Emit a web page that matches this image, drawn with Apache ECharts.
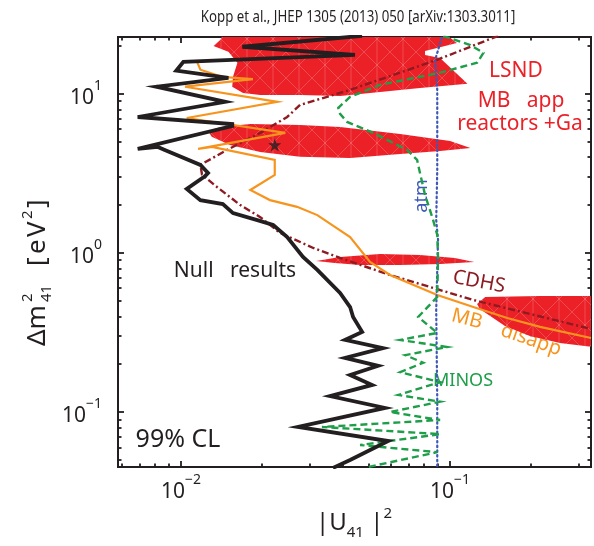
<!DOCTYPE html>
<html>
<head>
<meta charset="utf-8">
<script src="https://cdn.jsdelivr.net/npm/echarts@6/dist/echarts.min.js"></script>
<style>
  html, body { margin: 0; background: #fff; }
  #chart { width: 594px; height: 546px; }
</style>
</head>
<body>
<div id="chart"></div>
<script>
// ---- tick values ----
const xMajor = [0.01, 0.1];
const xMinor = [0.006, 0.007, 0.008, 0.009, 0.02, 0.03, 0.04, 0.05, 0.06, 0.07, 0.08, 0.09, 0.2, 0.3];
const yMajor = [0.1, 1, 10];
const yMinor = [0.05, 0.06, 0.07, 0.08, 0.09, 0.2, 0.3, 0.4, 0.5, 0.6, 0.7, 0.8, 0.9, 2, 3, 4, 5, 6, 7, 8, 9, 20];

// ---- curves [|U41|^2, dm2] ----
const nullResults = [
  [0.0471, 23.2], [0.0169, 19.8], [0.0443, 17.6], [0.0102, 15.9], [0.0096, 14.0], [0.0150, 12.6],
  [0.0081, 11.1], [0.0146, 8.91], [0.0069, 7.16], [0.0155, 6.47], [0.0155, 6.28], [0.0069, 4.51],
  [0.0082, 4.64], [0.0087, 4.44], [0.0118, 3.58], [0.0126, 3.18], [0.0123, 3.05], [0.0105, 2.53],
  [0.0118, 2.15], [0.0143, 2.03], [0.0156, 1.78], [0.0192, 1.61], [0.0220, 1.50], [0.0248, 1.26],
  [0.0284, 0.944], [0.0321, 0.782], [0.0390, 0.560], [0.0425, 0.457], [0.0436, 0.396], [0.0471, 0.319],
  [0.0407, 0.284], [0.0563, 0.252], [0.0407, 0.219], [0.0540, 0.195], [0.0425, 0.171], [0.0513, 0.148],
  [0.0358, 0.126], [0.0573, 0.106], [0.0272, 0.0805], [0.0589, 0.0657], [0.0425, 0.0499], [0.0367, 0.0445]
];
const mbDisapp = [
  [0.01147, 15.9], [0.0118, 14.2], [0.0142, 12.8], [0.0185, 12.4], [0.01035, 11.1], [0.0228, 8.91],
  [0.0105, 7.06], [0.0244, 5.69], [0.01157, 4.51], [0.01303, 4.64], [0.0223, 3.85], [0.0223, 3.10],
  [0.0181, 2.49], [0.0200, 2.28], [0.0214, 2.15], [0.0270, 1.95], [0.0321, 1.73], [0.0425, 1.26],
  [0.0504, 0.878], [0.0598, 0.727], [0.0896, 0.544], [0.122, 0.457], [0.163, 0.390], [0.216, 0.343],
  [0.334, 0.292]
];
const cdhs = [
  [0.151, 23.2], [0.0896, 16.4], [0.0425, 10.6], [0.0277, 8.53], [0.0248, 7.16], [0.0197, 5.69],
  [0.0148, 4.44], [0.0118, 3.58], [0.01197, 3.10], [0.0136, 2.60], [0.0166, 2.00], [0.0197, 1.68],
  [0.0233, 1.34], [0.0310, 1.075], [0.0390, 0.930], [0.0598, 0.727], [0.122, 0.506], [0.334, 0.333]
];
const minos = [
  [0.0942, 23.2], [0.119, 20.3], [0.133, 18.1], [0.126, 15.7], [0.0918, 13.6], [0.0549, 11.4],
  [0.0425, 9.58], [0.0384, 8.17], [0.0390, 7.49], [0.0414, 6.67], [0.0518, 5.69], [0.0692, 4.44],
  [0.0754, 3.85], [0.0773, 3.18], [0.0807, 2.32], [0.0865, 1.61], [0.0896, 1.30], [0.0902, 0.944],
  [0.0896, 0.529], [0.0761, 0.396], [0.0896, 0.314], [0.0652, 0.284], [0.0975, 0.256], [0.0681, 0.228],
  [0.0795, 0.204], [0.0652, 0.178], [0.0918, 0.154], [0.0642, 0.128], [0.0918, 0.116], [0.0598, 0.100],
  [0.0918, 0.0891], [0.0334, 0.0805], [0.0918, 0.0726], [0.0463, 0.0620], [0.0896, 0.0559], [0.0496, 0.0451]
];
const atm = [
  [0.0942, 24], [0.0880, 16.4], [0.0896, 10.6], [0.0896, 3.33], [0.0888, 1.61], [0.0902, 1.21],
  [0.0888, 0.438], [0.0896, 0.119], [0.0896, 0.044]
];
const bestFit = [[0.0223, 4.78]];

// ---- allowed regions (LSND + MB app + reactors + Ga) ----
const regionTop = [
  [0.0146, 25.3], [0.0918, 25.3], [0.106, 20.9], [0.0807, 18.6], [0.0807, 17.6], [0.0918, 16.8],
  [0.116, 11.6], [0.0773, 10.9], [0.0549, 10.3], [0.0390, 9.71], [0.0277, 9.85], [0.0197, 9.85],
  [0.0170, 10.15], [0.0155, 11.1], [0.0156, 12.8], [0.0162, 15.7], [0.0150, 18.4], [0.0132, 20.0],
  [0.0140, 21.9]
];
const regionMid = [
  [0.0126, 5.85], [0.0140, 6.20], [0.0181, 6.47], [0.0277, 6.38], [0.0390, 6.20], [0.0652, 5.60],
  [0.100, 5.06], [0.119, 4.57], [0.0918, 4.38], [0.0652, 4.19], [0.0425, 3.96], [0.0277, 4.02],
  [0.0197, 4.32], [0.0152, 4.78], [0.0130, 5.37]
];
const regionSliver = [
  [0.0318, 0.891], [0.0390, 0.944], [0.0549, 0.986], [0.0773, 0.971], [0.104, 0.930], [0.123, 0.878],
  [0.0918, 0.853], [0.0652, 0.841], [0.0463, 0.841], [0.0373, 0.865]
];
const regionLow = [
  [0.126, 0.478], [0.135, 0.529], [0.216, 0.536], [0.361, 0.536], [0.361, 0.253], [0.256, 0.272],
  [0.198, 0.301], [0.160, 0.347], [0.141, 0.402], [0.129, 0.444]
];

const FONT = '"Noto Sans", sans-serif';
const INK = '#231f20';
const RED = '#ec2027';

// faint white mesh over the red fill
const tile = document.createElement('canvas');
tile.width = 26; tile.height = 26;
(function () {
  const c = tile.getContext('2d');
  c.fillStyle = RED; c.fillRect(0, 0, 26, 26);
  c.strokeStyle = 'rgba(255,255,255,0.28)'; c.lineWidth = 0.7;
  c.beginPath();
  c.moveTo(0, 0); c.lineTo(26, 26);
  c.moveTo(26, 0); c.lineTo(0, 26);
  c.moveTo(13, 0); c.lineTo(13, 26);
  c.stroke();
})();
const meshFill = { image: tile, repeat: 'repeat' };

const xExt = { min: 0.00583, max: 0.334 };
const yExt = { min: 0.0451, max: 22.8 };

const expLabel = v => {
  const e = Math.round(Math.log10(v));
  return '{b|10}{s|' + (e < 0 ? '\u2212' + (-e) : e) + '}';
};
const labelRich = {
  b: { fontSize: 21, fontFamily: FONT, color: INK, lineHeight: 30, verticalAlign: 'bottom' },
  s: { fontSize: 14, fontFamily: FONT, color: INK, lineHeight: 18, verticalAlign: 'top' }
};

function makeAxis(dim, pos, ticks, len, withLabel) {
  const ext = dim === 'x' ? xExt : yExt;
  return {
    type: 'log', logBase: 10, position: pos, min: ext.min, max: ext.max,
    axisLine: { show: true, onZero: false, lineStyle: { color: INK, width: 2 } },
    axisTick: { show: true, inside: true, length: len, customValues: ticks, lineStyle: { color: INK, width: 1.8 } },
    axisLabel: withLabel
      ? { show: true, customValues: ticks, formatter: expLabel, rich: labelRich, margin: dim === 'x' ? 6 : 16 }
      : { show: false },
    splitLine: { show: false },
    minorTick: { show: false },
    minorSplitLine: { show: false }
  };
}

function region(pts) {
  return {
    type: 'custom', xAxisIndex: 0, yAxisIndex: 0, clip: true, z: 1, silent: true,
    data: pts,
    renderItem: (params, api) => {
      if (params.dataIndex !== 0) return null;
      return {
        type: 'polygon',
        shape: { points: pts.map(p => api.coord(p)) },
        style: { fill: meshFill, stroke: null }
      };
    }
  };
}

function curve(data, color, width, type, z, cap) {
  return {
    type: 'line', data: data, xAxisIndex: 0, yAxisIndex: 0, symbol: 'none', showSymbol: false,
    clip: true, silent: true, z: z,
    lineStyle: { color: color, width: width, type: type, join: 'miter', miterLimit: 6, cap: cap || 'butt' }
  };
}

function txt(x, y, text, size, color, extra) {
  return Object.assign({
    type: 'text', x: x, y: y, silent: true,
    style: {
      text: text, fontSize: size, fontFamily: FONT, fill: color,
      align: 'center', verticalAlign: 'middle', textAlign: 'center', textVerticalAlign: 'middle'
    }
  }, extra || {});
}

function part(x, y, text, size) {
  return {
    type: 'text', x: x, y: y,
    style: {
      text: text, fontSize: size, fontFamily: FONT, fill: INK,
      align: 'left', verticalAlign: 'middle', textAlign: 'left', textVerticalAlign: 'middle'
    }
  };
}

const chart = echarts.init(document.getElementById('chart'), null, { renderer: 'canvas' });

chart.setOption({
  animation: false,
  backgroundColor: '#fff',
  grid: { left: 118, right: 3, top: 37, bottom: 79 },
  xAxis: [
    makeAxis('x', 'bottom', xMajor, 6, true),
    makeAxis('x', 'bottom', xMinor, 3.5, false),
    makeAxis('x', 'top', xMajor, 6, false),
    makeAxis('x', 'top', xMinor, 3.5, false)
  ],
  yAxis: [
    makeAxis('y', 'left', yMajor, 6, true),
    makeAxis('y', 'left', yMinor, 3.5, false),
    makeAxis('y', 'right', yMajor, 6, false),
    makeAxis('y', 'right', yMinor, 3.5, false)
  ],
  series: [
    region(regionTop),
    region(regionMid),
    region(regionSliver),
    region(regionLow),
    curve(cdhs, '#8e1b22', 2.4, [7, 3, 2, 3], 5),
    curve(mbDisapp, '#f7941d', 2.2, 'solid', 6),
    curve(atm, '#3d58b6', 2.2, [1.5, 3.2], 7, 'round'),
    curve(minos, '#1f9e4a', 2.4, [7, 4], 8),
    curve(nullResults, INK, 3.8, 'solid', 9),
    {
      type: 'scatter', data: bestFit, xAxisIndex: 0, yAxisIndex: 0, z: 10, silent: true,
      symbol: 'path://M0,-10L2.35,-3.24L9.51,-3.09L3.8,1.24L5.88,8.09L0,4L-5.88,8.09L-3.8,1.24L-9.51,-3.09L-2.35,-3.24Z',
      symbolSize: 13, itemStyle: { color: INK }
    }
  ],
  graphic: [
    txt(358, 17, 'Kopp et al., JHEP 1305 (2013) 050 [arXiv:1303.3011]', 17, INK, { scaleX: 0.78, originX: 0, originY: 0 }),
    txt(516, 71, 'LSND', 21, RED),
    txt(521, 101, 'MB   app', 21, RED),
    txt(520, 124, 'reactors +Ga', 21, RED),
    txt(422, 196, 'atm', 18, '#3d58b6', { rotation: Math.PI / 2 }),
    txt(235, 271, 'Null   results', 21, INK),
    txt(479, 282, 'CDHS', 20, '#8e1b22', { rotation: -0.18 }),
    txt(467, 319, 'MB', 20, '#f7941d', { rotation: -0.25 }),
    txt(531, 340, 'disapp', 20, '#f7941d', { rotation: -0.33 }),
    txt(463, 381, 'MINOS', 18, '#1f9e4a'),
    txt(178, 440, '99% CL', 25, INK),
    {
      type: 'text', x: 354, y: 523, silent: true,
      style: {
        text: '{m||U}{d|41}{m| |}{s|2}', align: 'center', verticalAlign: 'middle',
        textAlign: 'center', textVerticalAlign: 'middle',
        rich: {
          m: { fontSize: 24, fontFamily: FONT, fill: INK, color: INK, lineHeight: 34, verticalAlign: 'middle' },
          d: { fontSize: 15, fontFamily: FONT, fill: INK, color: INK, lineHeight: 34, verticalAlign: 'bottom' },
          s: { fontSize: 15, fontFamily: FONT, fill: INK, color: INK, lineHeight: 15, verticalAlign: 'top' }
        }
      }
    },
    {
      type: 'group', x: 38, y: 256, rotation: Math.PI / 2, silent: true,
      children: [
        part(-90, 0, '\u0394m', 26),
        part(-46, -10, '2', 15),
        part(-46, 9, '41', 15),
        part(-10, 0, '[', 26),
        part(2, 0, 'e', 26),
        part(19, 0, 'V', 26),
        part(37, -10, '2', 15),
        part(48, 0, ']', 26)
      ]
    }
  ]
});
</script>
</body>
</html>
